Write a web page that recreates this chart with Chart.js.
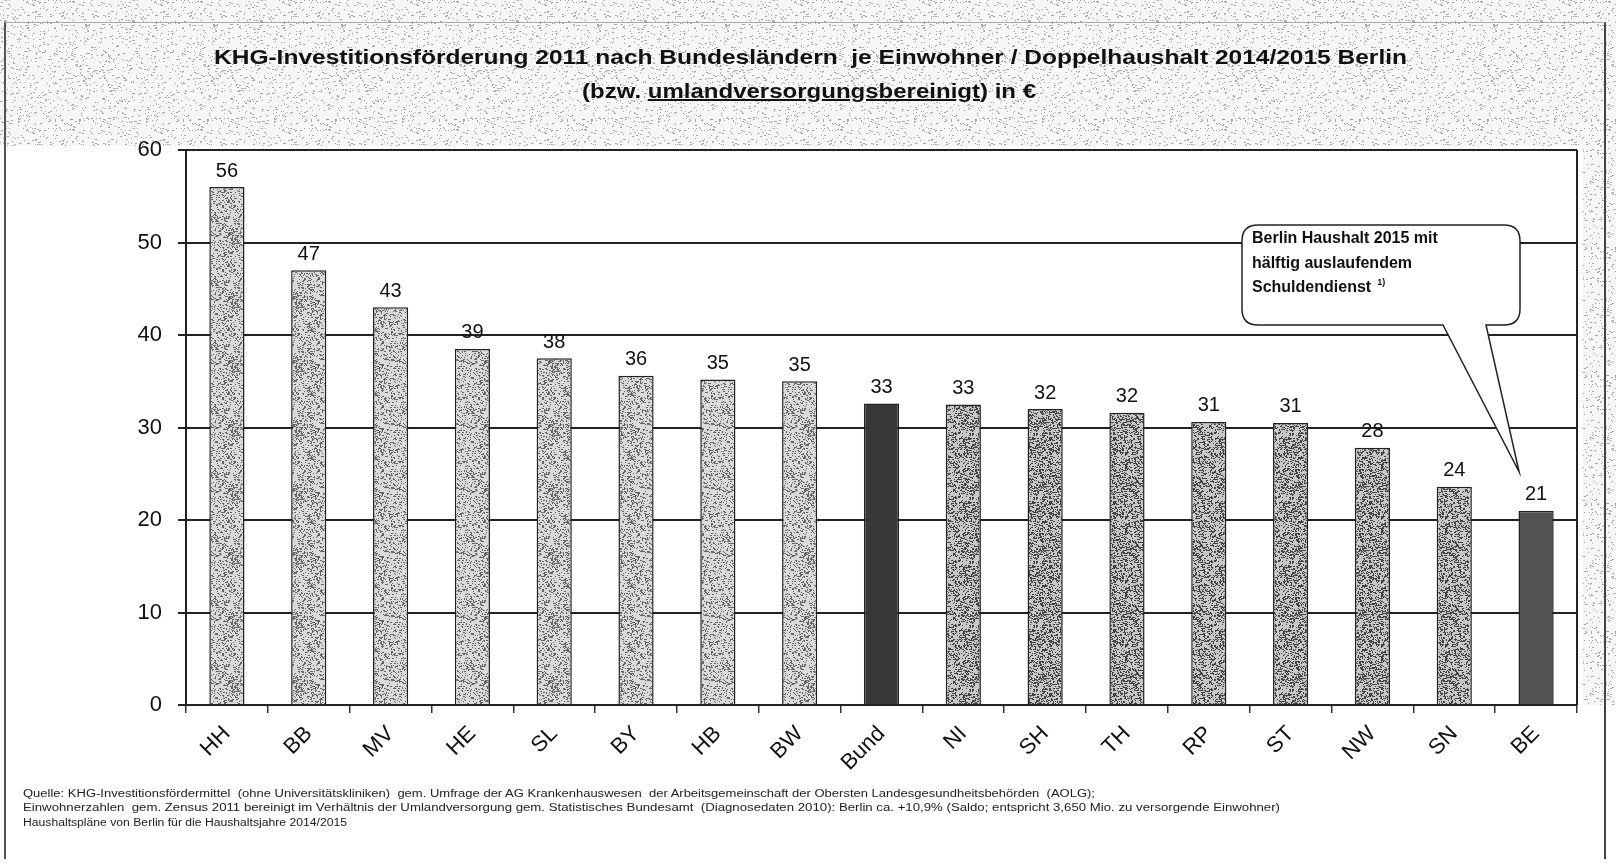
<!DOCTYPE html>
<html>
<head>
<meta charset="utf-8">
<script src="https://cdn.jsdelivr.net/npm/chart.js@4.4.1/dist/chart.umd.min.js"></script>
<style>
  html, body { margin: 0; padding: 0; background: #fff; }
  #wrap { position: relative; width: 1616px; height: 866px; overflow: hidden; }
  #chart { position: absolute; left: 0; top: 0; }
  .txt { position: absolute; white-space: nowrap; transform-origin: 0 50%; color: #111; }
  .title { font: bold 20px "Liberation Sans", Arial, sans-serif; }
  .foot { font: 10px "Liberation Sans Narrow", "Liberation Sans", Arial, sans-serif; color: #222; }
  #frame { position: absolute; left: 4px; top: 22px; width: 1598px; height: 836px; border-left: 2px solid #555; border-right: 2px solid #444; border-top: 1px solid #aaa; }
</style>
</head>
<body>
<div id="wrap">
  <canvas id="chart" width="1616" height="866"></canvas>
  <div id="frame"></div>
  <div class="txt title" data-x="214" data-y="57" data-w="1193">KHG-Investitionsförderung 2011 nach Bundesländern&nbsp; je Einwohner / Doppelhaushalt 2014/2015 Berlin</div>
  <div class="txt title" data-x="582" data-y="91" data-w="454">(bzw. <u>umlandversorgungsbereinigt</u>) in €</div>
  <div class="txt foot" data-x="23" data-y="793" data-w="1072">Quelle: KHG-Investitionsfördermittel &nbsp;(ohne Universitätskliniken) &nbsp;gem. Umfrage der AG Krankenhauswesen &nbsp;der Arbeitsgemeinschaft der Obersten Landesgesundheitsbehörden &nbsp;(AOLG);</div>
  <div class="txt foot" data-x="23" data-y="807" data-w="1257">Einwohnerzahlen &nbsp;gem. Zensus 2011 bereinigt im Verhältnis der Umlandversorgung gem. Statistisches Bundesamt &nbsp;(Diagnosedaten 2010): Berlin ca. +10,9% (Saldo; entspricht 3,650 Mio. zu versorgende Einwohner)</div>
  <div class="txt foot" data-x="23" data-y="822" data-w="324">Haushaltspläne von Berlin für die Haushaltsjahre 2014/2015</div>
</div>
<script>
// Bundesländer, Euro je Einwohner (Beschriftung gerundet)
const laender = ['HH', 'BB', 'MV', 'HE', 'SL', 'BY', 'HB', 'BW', 'Bund', 'NI', 'SH', 'TH', 'RP', 'ST', 'NW', 'SN', 'BE'];
const euroJeEinwohner = [56, 47, 43, 38.5, 37.5, 35.6, 35.2, 35, 32.6, 32.5, 32, 31.6, 30.6, 30.5, 27.8, 23.6, 21];
const yTicks = [0, 10, 20, 30, 40, 50, 60];
const calloutLines = ['Berlin Haushalt 2015 mit', 'hälftig auslaufendem', 'Schuldendienst'];

// place + stretch the html texts
document.querySelectorAll('.txt').forEach(el => {
  const w = el.getBoundingClientRect().width;
  const h = el.getBoundingClientRect().height;
  el.style.left = el.dataset.x + 'px';
  el.style.top = (el.dataset.y - h / 2) + 'px';
  el.style.transform = 'scaleX(' + (el.dataset.w / w) + ')';
});

// simple deterministic speckle textures
let seed = 7;
function rnd() { seed = (seed * 16807) % 2147483647; return seed / 2147483647; }
function speckle(base, dot, density, size) {
  const c = document.createElement('canvas');
  c.width = size; c.height = size;
  const g = c.getContext('2d');
  g.fillStyle = base; g.fillRect(0, 0, size, size);
  g.fillStyle = dot;
  const n = size * size * density;
  for (let i = 0; i < n; i++) {
    g.fillRect(Math.floor(rnd() * size), Math.floor(rnd() * size), 1 + (rnd() < 0.3 ? 1 : 0), 1);
  }
  return g.createPattern(c, 'repeat');
}
const lightFill = speckle('#dadada', '#666', 0.24, 64);
const midFill = speckle('#c8c8c8', '#444', 0.36, 64);
const paperFill = speckle('#f7f7f7', '#a8a8a8', 0.06, 128);

const barFills = laender.map((l, i) => {
  if (l === 'Bund') return '#383838';
  if (l === 'BE') return '#525252';
  return i < 8 ? lightFill : midFill;
});

const decor = {
  id: 'decor',
  beforeDraw(chart) {
    const { ctx, chartArea: a } = chart;
    ctx.save();
    ctx.fillStyle = paperFill;
    ctx.fillRect(0, 0, chart.width, a.top - 4);
    ctx.fillRect(a.right + 6, 0, chart.width - a.right - 6, a.bottom);
    ctx.restore();
  },
  afterDatasetsDraw(chart) {
    const { ctx, chartArea: a } = chart;
    const meta = chart.getDatasetMeta(0);
    ctx.save();
    // right border of plot area
    ctx.strokeStyle = '#222'; ctx.lineWidth = 2;
    ctx.beginPath(); ctx.moveTo(a.right, a.top); ctx.lineTo(a.right, a.bottom); ctx.stroke();
    // value labels
    ctx.fillStyle = '#111';
    ctx.font = '20px "Liberation Sans", Arial, sans-serif';
    ctx.textAlign = 'center'; ctx.textBaseline = 'bottom';
    meta.data.forEach((bar, i) => {
      ctx.fillText(String(Math.round(euroJeEinwohner[i])), bar.x, bar.y - 6);
    });
    // callout pointing at Berlin
    const be = meta.data[laender.indexOf('BE')];
    const tipX = be.x - 17, tipY = be.y - 39;
    const bx = 1242, by = 225, bw = 278, bh = 100, r = 16;
    ctx.beginPath();
    ctx.moveTo(bx + r, by);
    ctx.lineTo(bx + bw - r, by); ctx.quadraticCurveTo(bx + bw, by, bx + bw, by + r);
    ctx.lineTo(bx + bw, by + bh - r); ctx.quadraticCurveTo(bx + bw, by + bh, bx + bw - r, by + bh);
    ctx.lineTo(1486, by + bh);
    ctx.lineTo(tipX, tipY);
    ctx.lineTo(1443, by + bh);
    ctx.lineTo(bx + r, by + bh); ctx.quadraticCurveTo(bx, by + bh, bx, by + bh - r);
    ctx.lineTo(bx, by + r); ctx.quadraticCurveTo(bx, by, bx + r, by);
    ctx.closePath();
    ctx.fillStyle = '#fff'; ctx.fill();
    ctx.strokeStyle = '#222'; ctx.lineWidth = 1.5; ctx.stroke();
    ctx.fillStyle = '#111';
    ctx.font = 'bold 16px "Liberation Sans", Arial, sans-serif';
    ctx.textAlign = 'left'; ctx.textBaseline = 'middle';
    calloutLines.forEach((t, i) => ctx.fillText(t, bx + 10, by + 14 + i * 24.5));
    const w = ctx.measureText(calloutLines[2]).width;
    ctx.font = 'bold 9px "Liberation Sans", Arial, sans-serif';
    ctx.fillText('1)', bx + 16 + w, by + 14 + 2 * 24.5 - 5);
    ctx.restore();
  }
};

new Chart(document.getElementById('chart'), {
  type: 'bar',
  data: {
    labels: laender,
    datasets: [{
      data: euroJeEinwohner,
      backgroundColor: barFills,
      borderColor: '#222',
      borderWidth: 1.5,
      borderSkipped: 'bottom',
      barPercentage: 0.43,
      categoryPercentage: 1
    }]
  },
  options: {
    responsive: false,
    animation: false,
    layout: { padding: { left: 100, top: 150, right: 39, bottom: 0 } },
    plugins: { legend: { display: false }, title: { display: false }, tooltip: { enabled: false } },
    scales: {
      x: {
        afterFit(s) { s.height = 161; },
        grid: { display: true, drawOnChartArea: false, color: '#333', tickLength: 8, offset: true, lineWidth: 1.5 },
        border: { color: '#222', width: 2 },
        ticks: {
          maxRotation: 45, minRotation: 45, padding: 8, color: '#111',
          font: { family: '"Liberation Sans", Arial, sans-serif', size: 22 }
        }
      },
      y: {
        min: 0, max: 60,
        afterFit(s) { s.width = 86; },
        afterBuildTicks(s) { s.ticks = yTicks.map(v => ({ value: v })); },
        grid: { color: '#222', lineWidth: 2, tickLength: 8 },
        border: { color: '#222', width: 2 },
        ticks: {
          padding: 16, color: '#111',
          font: { family: '"Liberation Sans", Arial, sans-serif', size: 22 }
        }
      }
    }
  },
  plugins: [decor]
});
</script>
</body>
</html>
